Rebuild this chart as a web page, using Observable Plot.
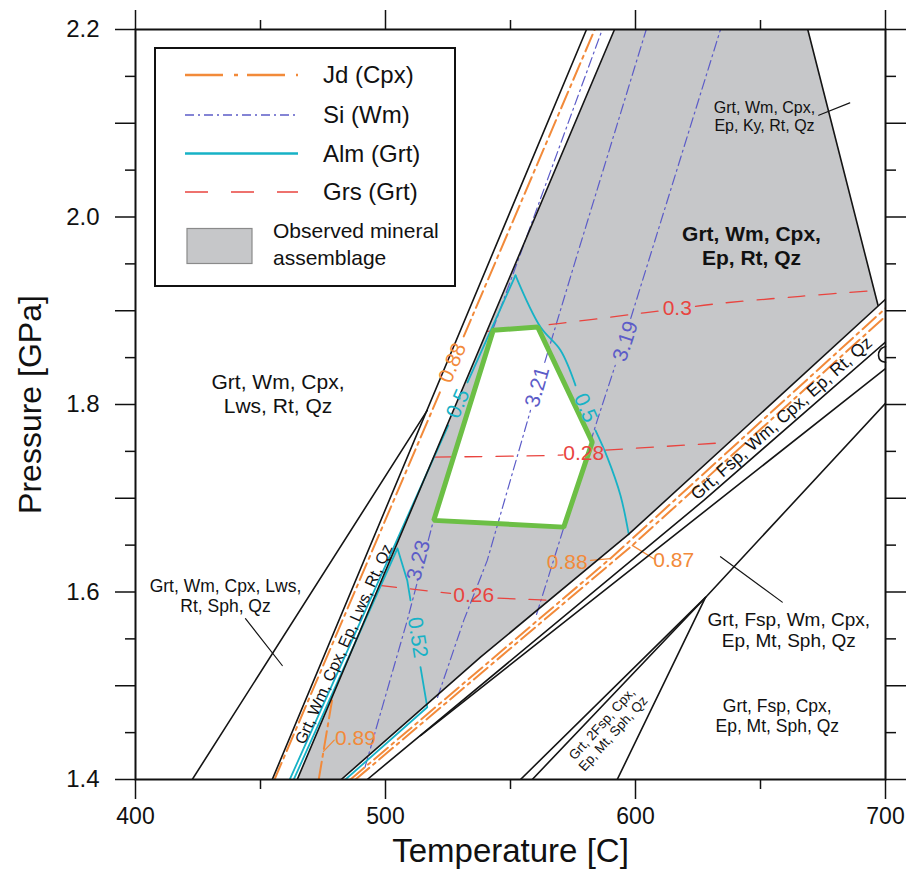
<!DOCTYPE html>
<html>
<head>
<meta charset="utf-8">
<script src="https://cdn.jsdelivr.net/npm/d3@7"></script>
<script src="https://cdn.jsdelivr.net/npm/@observablehq/plot@0.6"></script>
<style>
  html,body{margin:0;padding:0;background:#fff;}
  #chart{position:relative;width:906px;height:869px;font-family:"Liberation Sans",Arial,sans-serif;}
  #chart svg{display:block;}
</style>
</head>
<body>
<div id="chart"></div>
<script>
// ---------- axis ticks ----------
const xTicksMajor = [400, 500, 600, 700];
const xTicksMinor = [450, 550, 650];
const yTicksMajor = [1.4, 1.5, 1.6, 1.7, 1.8, 1.9, 2.0, 2.1, 2.2];
const yTicksMinor = [1.45, 1.55, 1.65, 1.75, 1.85, 1.95, 2.05, 2.15];
const yTicksLabeled = [1.4, 1.6, 1.8, 2.0, 2.2];

// ---------- fields (T [C], P [GPa]) ----------
const grayField = [[464.7,1.4],[591.6,2.2],[668.9,2.2],[697,1.9058],[597.2,1.6614],[538,1.5305],[482.3,1.4]];
const observedField = [[543.1,1.8791],[560.9,1.8826],[582.7,1.7599],[571.3,1.6692],[519.3,1.6764],[543.1,1.8791]];

// ---------- black phase boundaries ----------
const B0 = [[422.7,1.4],[516.7,1.7937]];
const B1 = [[454.7,1.4],[580.4,2.2]];
const B2 = [[464.7,1.4],[591.6,2.2]];
const R1 = [[668.9,2.2],[697,1.9058]];
const L1 = [[482.3,1.4],[538,1.5305],[597.2,1.6614],[700,1.9122]];
const L2 = [[492.7,1.4],[627.3,1.6977],[700,1.8666]];
const L3 = [[514,1.4469],[700,1.8382]];
const L4 = [[554,1.4],[628,1.5942],[700,1.8012]];
const L5 = [[558.7,1.4],[628,1.5942]];
const L6 = [[592.7,1.4],[628,1.5942]];
const ARC = [[700,1.862],[698,1.8588],[697.2,1.8524],[698,1.8471],[700,1.845]];

// ---------- Jd (Cpx) isopleths ----------
const J88a1 = [[455.6,1.4],[522.1,1.8151]];
const J88a2 = [[531.3,1.8727],[583.7,2.2]];
const J89 = [[473.3,1.4],[478.6,1.4843]];
const J88b = [[486,1.4],[590,1.6358],[700,1.9026]];
const J87 = [[488,1.4],[598.7,1.6497],[700,1.8941]];

// ---------- Si (Wm) isopleths ----------
const S323a = [[491.8,1.4131],[508.7,1.5697],[512.9,1.6123]];
const S323b = [[517.1,1.655],[519.2,1.6764],[542.8,1.8791],[586.7,2.2]];
const S321a = [[520.8,1.4875],[531.3,1.5697],[540.7,1.6337],[558,1.7937]];
const S321b = [[563.7,1.845],[576,1.9538],[604.3,2.2]];
const S319a = [[560.4,1.576],[564.7,1.6123],[584.7,1.7831],[591.9,1.8418]];
const S319b = [[598.1,1.8919],[634,2.2]];

// ---------- Alm (Grt) isopleths ----------
const A50a = [[461.7,1.4],[525.1,1.7777]];
const A50b = [[532.8,1.8236],[552,1.9378]];
const A50c = [[552,1.9378],[562,1.8826],[570,1.8578],[576,1.8204]];
const A50d = [[584,1.7724],[588.7,1.7439],[594,1.7030],[597.3,1.6614]];
const A52a = [[463.3,1.4],[504.8,1.6465],[508.7,1.6123],[510,1.5911]];
const A52b = [[514,1.5198],[516.7,1.4771],[484,1.4]];

// ---------- Grs (Grt) isopleths ----------
const G30a = [[540.8,1.878],[570,1.8866],[602,1.8973],[609,1.8996]];
const G30b = [[624,1.9046],[634,1.9079],[666,1.9154],[696.4,1.9218]];
const G28a = [[519.4,1.7439],[567.2,1.7457],[571,1.7463]];
const G28b = [[588,1.7513],[637.6,1.7596]];
const G26a = [[497.6,1.607],[526,1.5985]];
const G26b = [[545,1.5934],[566,1.5911]];

// ---------- leader lines ----------
const leadBlack1 = [[444,1.5715],[458.7,1.5216]];
const leadBlack2 = [[673.3,2.1085],[685.7,2.1217]];
const leadBlack3 = [[634,1.6376],[658.7,1.5892]];
const lead89 = [[475.2,1.43],[479.5,1.442]];
const lead88 = [[582,1.6338],[590,1.6355]];
const lead87 = [[607.3,1.6355],[598.7,1.6497]];

// ---------- isopleth value labels ----------
const jdLabelText = ["0.88", "0.88", "0.87", "0.89"];
const jdLabelT = [526.8, 572.7, 615.3, 488];
const jdLabelP = [1.8444, 1.6319, 1.6337, 1.4437];
const jdLabelRot = [-67, 0, 0, 0];

const siLabelText = ["3.23", "3.21", "3.19"];
const siLabelT = [513.2, 560.7, 596];
const siLabelP = [1.6337, 1.8186, 1.8674];
const siLabelRot = [-75, -74, -72];

const almLabelText = ["0.5", "0.5", "0.52"];
const almLabelT = [529, 580, 512.8];
const almLabelP = [1.801, 1.7964, 1.5515];
const almLabelRot = [-66, 66, 81];

const grsLabelText = ["0.3", "0.28", "0.26"];
const grsLabelT = [616.7, 579.3, 535.3];
const grsLabelP = [1.9023, 1.7475, 1.5963];

// ---------- field labels ----------
const fieldText = ["Grt, Wm, Cpx,\nLws, Rt, Qz", "Grt, Wm, Cpx, Lws,\nRt, Sph, Qz", "Grt, Wm, Cpx,\nEp, Ky, Rt, Qz", "Grt, Fsp, Wm, Cpx,\nEp, Mt, Sph, Qz", "Grt, Fsp, Cpx,\nEp, Mt, Sph, Qz"];
const fieldT = [457, 436, 651.6, 661.3, 656.7];
const fieldP = [1.8124, 1.5963, 2.1075, 1.56, 1.4683];
const fieldSize = [21, 17.5, 16, 19, 17.5];

const mainFieldText = ["Grt, Wm, Cpx,\nEp, Rt, Qz"];
const mainFieldT = [646.4];
const mainFieldP = [1.9698];

const bandText = ["Grt, Wm, Cpx, Ep, Lws, Rt, Qz", "Grt, Fsp, Wm, Cpx, Ep, Rt, Qz", "Grt, 2Fsp, Cpx,\nEp, Mt, Sph, Qz"];
const bandT = [483.2, 658.3, 588.7];
const bandP = [1.5446, 1.7857, 1.4544];
const bandRot = [-66, -41.6, -48];
const bandSize = [16, 17.5, 13.5];

// ---------- legend ----------
const legendNames = ["Jd (Cpx)", "Si (Wm)", "Alm (Grt)", "Grs (Grt)"];
const legendObserved = ["Observed mineral", "assemblage"];

// ---------- build tables ----------
function rows(named) {
  const out = [];
  for (const [name, pts] of Object.entries(named)) for (const [T, P] of pts) out.push({name, T, P});
  return out;
}
function labels(texts, Ts, Ps, extra = {}) {
  return texts.map((text, i) => {
    const o = {text, T: Ts[i], P: Ps[i]};
    for (const k in extra) o[k] = extra[k][i];
    return o;
  });
}

const ORANGE = "#f28a3a", BLUE = "#5c5cc8", CYAN = "#17b2c6", RED = "#e9443f", GREEN = "#6cbf45", GRAY = "#c6c7c9";

const blackRows = rows({B0, B1, B2, R1, L1, L2, L3, L4, L5, L6});
const jdRows = rows({J88a1, J88a2, J89, J88b, J87});
const siRows = rows({S323a, S323b, S321a, S321b, S319a, S319b});
const almStraight = rows({A50a, A50b, A52a, A52b});
const almCurve = rows({A50c, A50d});
const grsRows = rows({G30a, G30b, G28a, G28b, G26a, G26b});
const leadBlackRows = rows({leadBlack1, leadBlack2, leadBlack3});
const leadOrangeRows = rows({lead89, lead88, lead87});
const arcRows = rows({ARC});

const fmt = d => yTicksLabeled.some(v => Math.abs(v - d) < 1e-9) ? d.toFixed(1) : "";
const blank = () => "";
const FONT = "Liberation Sans, Arial, sans-serif";

const plot = Plot.plot({
  width: 906,
  height: 869,
  marginLeft: 135,
  marginRight: 21,
  marginTop: 29,
  marginBottom: 90,
  style: {fontFamily: FONT, background: "#fff", color: "#111"},
  x: {domain: [400, 700]},
  y: {domain: [1.4, 2.2]},
  marks: [
    Plot.line(rows({grayField}), {x: "T", y: "P", fill: GRAY, stroke: "none"}),
    Plot.line(rows({observedField}), {x: "T", y: "P", fill: "#fff", stroke: "none"}),
    Plot.line(siRows, {x: "T", y: "P", z: "name", stroke: BLUE, strokeWidth: 1.2, strokeDasharray: "10,4,2,4", clip: true}),
    Plot.line(grsRows, {x: "T", y: "P", z: "name", stroke: RED, strokeWidth: 1.3, strokeDasharray: "17,14", curve: "catmull-rom", clip: true}),
    Plot.line(almStraight, {x: "T", y: "P", z: "name", stroke: CYAN, strokeWidth: 1.8, clip: true}),
    Plot.line(almCurve, {x: "T", y: "P", z: "name", stroke: CYAN, strokeWidth: 1.8, curve: "catmull-rom", clip: true}),
    Plot.line(jdRows, {x: "T", y: "P", z: "name", stroke: ORANGE, strokeWidth: 2, strokeDasharray: "18,5,3,5", clip: true}),
    Plot.line(leadOrangeRows, {x: "T", y: "P", z: "name", stroke: ORANGE, strokeWidth: 1.3}),
    Plot.line(blackRows, {x: "T", y: "P", z: "name", stroke: "#151515", strokeWidth: 1.6, clip: true}),
    Plot.line(arcRows, {x: "T", y: "P", stroke: "#151515", strokeWidth: 1.6, curve: "catmull-rom"}),
    Plot.line(leadBlackRows, {x: "T", y: "P", z: "name", stroke: "#151515", strokeWidth: 1.2}),
    Plot.line(rows({observedField}), {x: "T", y: "P", stroke: GREEN, strokeWidth: 5, strokeLinejoin: "miter"}),

    // isopleth labels
    Plot.text(labels(jdLabelText, jdLabelT, jdLabelP, {rot: jdLabelRot}), {x: "T", y: "P", text: "text", rotate: "rot", fill: ORANGE, fontSize: 21}),
    Plot.text(labels(siLabelText, siLabelT, siLabelP, {rot: siLabelRot}), {x: "T", y: "P", text: "text", rotate: "rot", fill: BLUE, fontSize: 21}),
    Plot.text(labels(almLabelText, almLabelT, almLabelP, {rot: almLabelRot}), {x: "T", y: "P", text: "text", rotate: "rot", fill: CYAN, fontSize: 21}),
    Plot.text(labels(grsLabelText, grsLabelT, grsLabelP), {x: "T", y: "P", text: "text", fill: RED, fontSize: 21}),

    // field labels
    Plot.text(labels(fieldText, fieldT, fieldP, {size: fieldSize}), {x: "T", y: "P", text: "text", fontSize: "size", lineHeight: 1.15, fill: "#111"}),
    Plot.text(labels(mainFieldText, mainFieldT, mainFieldP), {x: "T", y: "P", text: "text", fontSize: 21, fontWeight: "bold", lineHeight: 1.12, fill: "#111"}),
    Plot.text(labels(bandText, bandT, bandP, {rot: bandRot, size: bandSize}), {x: "T", y: "P", text: "text", rotate: "rot", fontSize: "size", lineHeight: 1.1, fill: "#111"}),

    // axes
    Plot.axisX(xTicksMajor, {anchor: "bottom", tickSize: 20, tickPadding: 8, fontSize: 23, strokeWidth: 1.5, label: null}),
    Plot.axisX(xTicksMinor, {anchor: "bottom", tickSize: 10, tickFormat: blank, strokeWidth: 1.5, label: null}),
    Plot.axisX(xTicksMajor, {anchor: "top", tickSize: 20, tickFormat: blank, strokeWidth: 1.5, label: null}),
    Plot.axisX(xTicksMinor, {anchor: "top", tickSize: 10, tickFormat: blank, strokeWidth: 1.5, label: null}),
    Plot.axisY(yTicksMajor, {anchor: "left", tickSize: 20, tickPadding: 16, tickFormat: fmt, fontSize: 24, strokeWidth: 1.5, label: null}),
    Plot.axisY(yTicksMinor, {anchor: "left", tickSize: 10, tickFormat: blank, strokeWidth: 1.5, label: null}),
    Plot.axisY(yTicksMajor, {anchor: "right", tickSize: 20, tickFormat: blank, strokeWidth: 1.5, label: null}),
    Plot.axisY(yTicksMinor, {anchor: "right", tickSize: 10, tickFormat: blank, strokeWidth: 1.5, label: null}),
    Plot.frame({stroke: "#111", strokeWidth: 2}),
    Plot.text(["Temperature [C]"], {frameAnchor: "bottom", textAnchor: "middle", lineAnchor: "middle", dy: 72, fontSize: 33, fill: "#111"}),
    Plot.text(["Pressure [GPa]"], {frameAnchor: "left", textAnchor: "middle", lineAnchor: "middle", dx: -105, rotate: -90, fontSize: 32, fill: "#111"})
  ]
});
document.getElementById("chart").appendChild(plot);

// ---------- legend overlay ----------
const leg = d3.select("#chart").append("svg")
  .attr("width", 906).attr("height", 869)
  .style("position", "absolute").style("left", "0px").style("top", "0px")
  .style("font-family", FONT);
leg.append("rect").attr("x", 155).attr("y", 48).attr("width", 300).attr("height", 238)
  .attr("fill", "#fff").attr("stroke", "#111").attr("stroke-width", 2);
const legendStyle = [
  {color: ORANGE, dash: "38,11,4,9", w: 2.5},
  {color: BLUE, dash: "9,4,2,4", w: 1.3},
  {color: CYAN, dash: null, w: 2.5},
  {color: RED, dash: "23,23", w: 1.5}
];
const legendY = [75, 115, 153.5, 192];
legendNames.forEach((name, i) => {
  const s = legendStyle[i];
  leg.append("line").attr("x1", 185).attr("x2", 298).attr("y1", legendY[i]).attr("y2", legendY[i])
    .attr("stroke", s.color).attr("stroke-width", s.w).attr("stroke-dasharray", s.dash);
  leg.append("text").attr("x", 323).attr("y", legendY[i]).attr("dy", "0.35em")
    .attr("font-size", 24).attr("fill", "#111").text(name);
});
leg.append("rect").attr("x", 187).attr("y", 228.5).attr("width", 65).attr("height", 35)
  .attr("fill", GRAY).attr("stroke", "#8a8a8a").attr("stroke-width", 1.2);
legendObserved.forEach((t, i) => {
  leg.append("text").attr("x", 273).attr("y", 231 + i * 26.5).attr("dy", "0.35em")
    .attr("font-size", 21).attr("fill", "#111").text(t);
});
</script>
</body>
</html>
